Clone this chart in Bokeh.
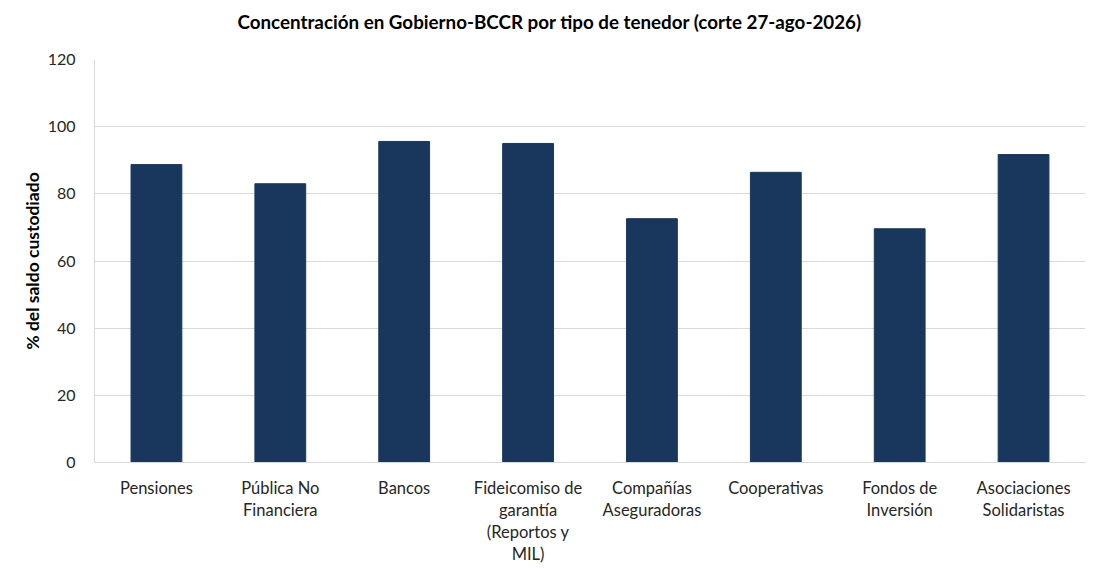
from bokeh.plotting import figure
from bokeh.models import Range1d, FactorRange, Title
from bokeh.embed import file_html
from bokeh.resources import INLINE

title_text = "Concentración en Gobierno-BCCR por tipo de tenedor (corte 27-ago-2026)"
categories = ["Pensiones", "Pública No\nFinanciera", "Bancos", "Fideicomiso de\ngarantía\n(Reportos y\nMIL)",
              "Compañías\nAseguradoras", "Cooperativas", "Fondos de\nInversión", "Asociaciones\nSolidaristas"]
values = [88.7, 83.0, 95.6, 95.0, 72.6, 86.4, 69.6, 91.7]
y_ticks = [0, 20, 40, 60, 80, 100, 120]

FONT = "Lato"
BAR = "#19375d"

p = figure(frame_width=991, frame_height=403, x_range=FactorRange(*categories), y_range=Range1d(0, 120),
           output_backend="svg", toolbar_location=None,
           min_border_left=94, min_border_right=6, min_border_top=59, min_border_bottom=97)
p.title = None

p.vbar(x=categories, top=values, width=0.41, color=BAR)

# spacer between the frame and the title
p.add_layout(Title(text=" ", text_font_size="1px", standoff=24), "above")
p.add_layout(Title(text=title_text, align="left", offset=143, standoff=0,
                   text_font=FONT, text_font_size="18.8px", text_font_style="bold",
                   text_color="#000000"), "above")

p.outline_line_color = None
p.xgrid.grid_line_color = None
p.ygrid.grid_line_color = "#d9d9d9"
p.ygrid.grid_line_width = 1

p.yaxis.ticker = y_ticks
p.yaxis.axis_label = "% del saldo custodiado"
p.yaxis.axis_label_text_font = FONT
p.yaxis.axis_label_text_font_size = "17.5px"
p.yaxis.axis_label_text_font_style = "bold"
p.yaxis.axis_label_text_color = "#000000"
p.yaxis.axis_label_standoff = 2

for ax in (p.xaxis, p.yaxis):
    ax.major_tick_line_color = None
    ax.minor_tick_line_color = None
    ax.axis_line_color = "#d9d9d9"
    ax.major_label_text_font = FONT
    ax.major_label_text_color = "#262626"

p.yaxis.major_label_text_font_size = "16px"
p.xaxis.major_label_text_font_size = "16.5px"
p.yaxis.major_label_standoff = 13
p.xaxis.major_label_standoff = 9
p.xaxis.major_label_text_line_height = 1.1
p.x_range.range_padding = 0

open("out.html", "w").write(file_html(p, INLINE))
